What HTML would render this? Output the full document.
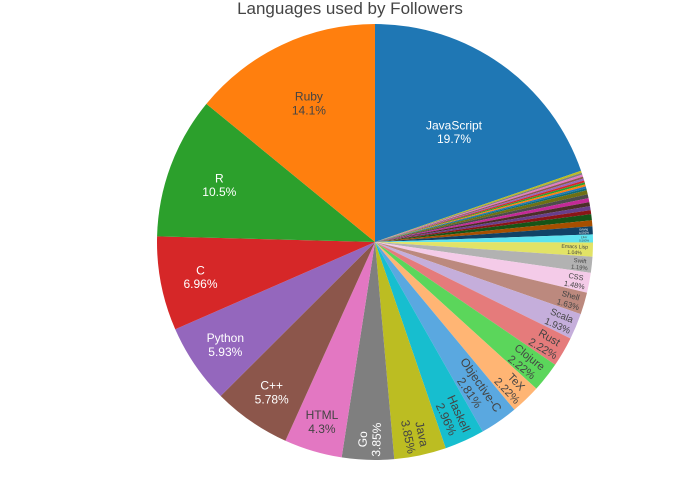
<!DOCTYPE html>
<html><head><meta charset="utf-8">
<style>
html,body{margin:0;padding:0;background:#fff;}
svg{display:block;font-family:"Liberation Sans","DejaVu Sans",sans-serif;}
</style></head>
<body>
<svg id="chart" width="700" height="500" viewBox="0 0 700 500">
<text x="350" y="14" text-anchor="middle" font-size="17" fill="#444">Languages used by Followers</text>
<g id="slices"></g>
<g id="labels"></g>
</svg>
<script>
const languages = ["JavaScript","Ruby","R","C","Python","C++","HTML","Go","Java","Haskell","Objective-C","TeX","Clojure","Rust","Scala","Shell","CSS","Swift","Emacs Lisp","Elixir","Erlang","PHP","Perl","Lua","OCaml","Coq","Vim script","Julia","Scheme","Racket","Elm","Kotlin","Dart","Fortran","Matlab","CoffeeScript","Groovy","Nix","PureScript","Makefile"];
const counts = [133,95,71,47,40,39,29,26,26,20,19,15,15,15,13,11,10,8,7,4,4,3,3,2,2,2,2,2,2,1,1,1,1,1,1,1,1,1,1];
const palette = ["#1f77b4","#ff7f0e","#2ca02c","#d62728","#9467bd","#8c564b","#e377c2","#7f7f7f","#bcbd22","#17becf",
"#5aa8e0","#ffb574","#5bd65b","#e57b7b","#c5aedb","#bc897e","#f4cbe8","#b2b2b2","#e2e366","#5ee3ef",
"#114266","#a64f00","#175417","#8a1516","#673f8c","#4b2e28","#c32a97","#4c4c4c","#6f7014","#0d6e78"];
const cx = 375, cy = 242, R = 218;
const NS = "http://www.w3.org/2000/svg";
const n = counts.length;
const total = counts.reduce((a,b)=>a+b,0);
const gS = document.getElementById('slices'), gL = document.getElementById('labels');
function pt(a,r){return [cx+r*Math.sin(a), cy-r*Math.cos(a)];}
function lum(hex){const v=parseInt(hex.slice(1),16);const r=(v>>16)&255,g=(v>>8)&255,b=v&255;return (0.299*r+0.587*g+0.114*b);}
const order=[0]; for(let i=n-1;i>=1;i--) order.push(i);
let ang=0;
order.forEach(i=>{
  const frac=counts[i]/total, span=frac*2*Math.PI;
  const a0=ang, a1=ang+span; ang=a1;
  const col=palette[i%palette.length];
  const p0=pt(a0,R), p1=pt(a1,R);
  const path=document.createElementNS(NS,'path');
  path.setAttribute('d',`M${cx},${cy}L${p0[0]},${p0[1]}A${R},${R} 0 ${span>Math.PI?1:0} 1 ${p1[0]},${p1[1]}Z`);
  path.setAttribute('fill',col);
  
  
  gS.appendChild(path);
  const pct=frac*100;
  if(pct<0.5) return;
  const mid=(a0+a1)/2;
  const txtCol=lum(col)>135?'#444':'#fff';
  const pctTxt=Number(pct.toPrecision(3))+'%';
  const t=document.createElementNS(NS,'text');
  t.setAttribute('text-anchor','middle');
  t.setAttribute('fill',txtCol);
  
  
  let fs, x, y, rot=0;
  if(pct>=4){
    fs=12;
    const rr=R*(0.62+0.3*(1-Math.min(pct,20)/20));
    [x,y]=pt(mid,rr);
  } else {
    const rt=190;
    fs=Math.min(12,span*rt/2.4);
    const len=Math.max(languages[i].length,pctTxt.length)*fs*0.55;
    const rr=R-len/2-4;
    [x,y]=pt(mid,rr);
    rot=mid*180/Math.PI-90;
    while(rot>90) rot-=180;
    while(rot<-90) rot+=180;
  }
  t.setAttribute('font-size',fs.toFixed(2));
  t.setAttribute('transform',`translate(${x.toFixed(1)},${y.toFixed(1)}) rotate(${rot.toFixed(1)})`);
  const s1=document.createElementNS(NS,'tspan'); s1.setAttribute('x','0'); s1.setAttribute('y',(-0.15*fs).toFixed(2)); s1.textContent=languages[i];
  const s2=document.createElementNS(NS,'tspan'); s2.setAttribute('x','0'); s2.setAttribute('y',(1.0*fs).toFixed(2)); s2.textContent=pctTxt;
  t.appendChild(s1); t.appendChild(s2);
  gL.appendChild(t);
});
</script>
</body></html>
